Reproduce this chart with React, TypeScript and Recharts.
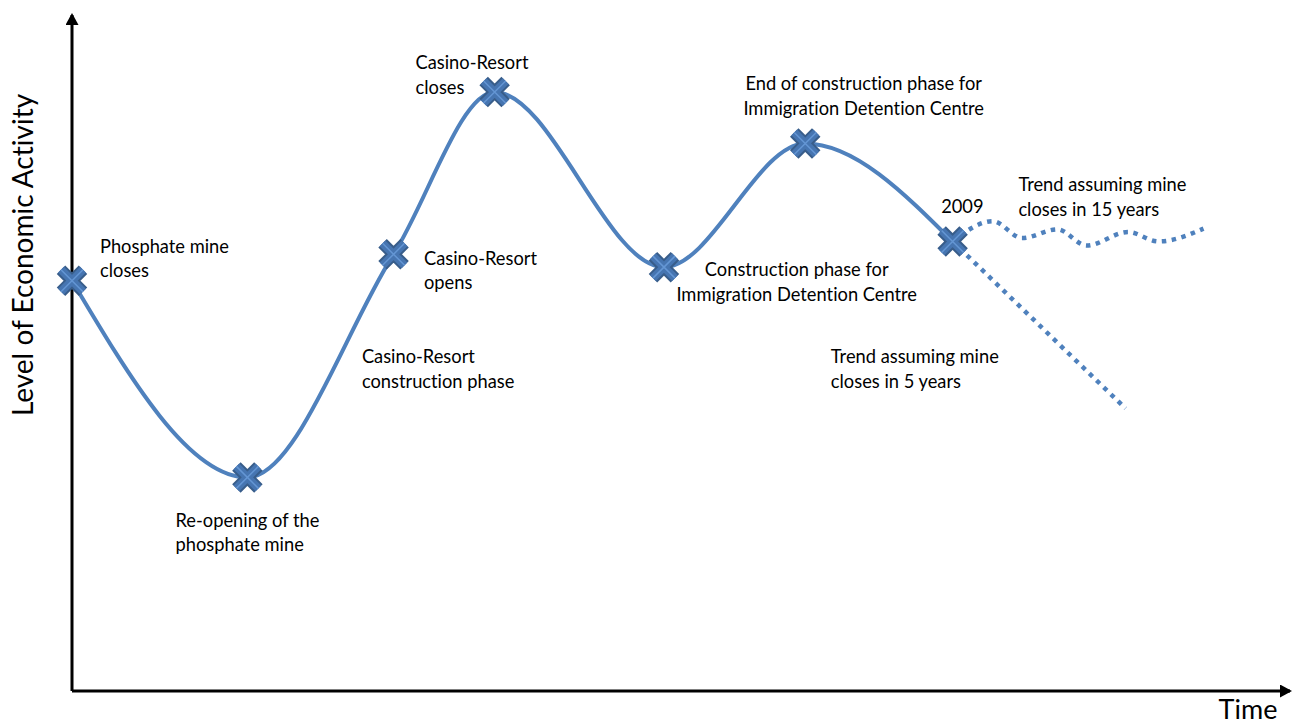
import React from 'react';
import { LineChart, Line, XAxis, YAxis, ReferenceDot } from 'recharts';

// Milestones on the main economic-activity path (time and level on a 0-100 scale)
const eventTimes = [0, 14.4, 26.4, 34.7, 48.6, 60.2, 72.3];
const eventLevels = [60.7, 31.6, 64.6, 88.6, 62.7, 81.0, 66.5];

// Trend assuming mine closes in 15 years (dotted wave)
const trend15Times = [72.3, 75.6, 78.0, 80.9, 83.3, 86.7, 89.2, 92.9];
const trend15Levels = [66.5, 69.5, 67.0, 68.3, 65.9, 67.9, 66.5, 68.4];

// Trend assuming mine closes in 5 years (dotted decline)
const trend5Times = [72.3, 86.5];
const trend5Levels = [66.5, 41.8];

// Annotation texts
const annotationTexts: string[][] = [
  ['Phosphate mine', 'closes'],
  ['Re-opening of the', 'phosphate mine'],
  ['Casino-Resort', 'construction phase'],
  ['Casino-Resort', 'opens'],
  ['Casino-Resort', 'closes'],
  ['End of construction phase for', 'Immigration Detention Centre'],
  ['Construction phase for', 'Immigration Detention Centre'],
  ['2009'],
  ['Trend assuming mine', 'closes in 15 years'],
  ['Trend assuming mine', 'closes in 5 years'],
];
const annotationTimes = [2.3, 8.5, 23.8, 28.9, 28.2, 65.0, 59.5, 73.1, 77.7, 62.3];
const annotationLevels = [65.9, 25.3, 49.5, 64.1, 93.0, 89.9, 62.4, 71.7, 75.0, 49.5];
const annotationAnchors = ['start', 'start', 'start', 'start', 'start', 'middle', 'middle', 'middle', 'start', 'start'];

const xAxisLabel = 'Time';
const yAxisLabel = 'Level of Economic Activity';

const mainData = eventTimes.map((t, i) => ({ time: t, level: eventLevels[i] }));
const trend15Data = trend15Times.map((t, i) => ({ time: t, level: trend15Levels[i] }));
const trend5Data = trend5Times.map((t, i) => ({ time: t, level: trend5Levels[i] }));

const FONT = "Lato, 'Liberation Sans', sans-serif";
const LINE_COLOR = '#4f81bd';
const TEXT_STYLE: React.CSSProperties = { fontVariantLigatures: 'none', fontFeatureSettings: '"liga" 0, "clig" 0' };

const XMarker = (props: any) => {
  const { cx, cy, index } = props;
  if (cx == null || cy == null) return null;
  const a = 11;
  const d = `M${cx - a},${cy - a}L${cx + a},${cy + a}M${cx - a},${cy + a}L${cx + a},${cy - a}`;
  return (
    <g key={`xm-${index}`}>
      <path d={d} stroke="#385d8a" strokeWidth={12} fill="none" />
      <path d={d} stroke="#4675b1" strokeWidth={8} fill="none" />
      <path d={d} stroke="#6496d4" strokeWidth={1.5} fill="none" />
    </g>
  );
};

const makeAnnotation = (lines: string[], anchor: string, key: number) => (props: any) => {
  const { cx, cy } = props;
  if (cx == null || cy == null) return null;
  return (
    <text
      key={`ann-${key}`}
      x={cx}
      y={cy}
      textAnchor={anchor as any}
      fontFamily={FONT}
      fontSize={18.3}
      fill="#000"
      style={TEXT_STYLE}
    >
      {lines.map((ln, j) => (
        <tspan key={j} x={cx} dy={j === 0 ? 0 : 24.5} dominantBaseline="central">
          {ln}
        </tspan>
      ))}
    </text>
  );
};

const XLabel = (props: any) => {
  const vb = props.viewBox || {};
  return (
    <text
      x={vb.x + vb.width - 42}
      y={vb.y + 28}
      textAnchor="middle"
      fontFamily={FONT}
      fontSize={27}
      fill="#000"
      style={TEXT_STYLE}
    >
      {xAxisLabel}
    </text>
  );
};

const YLabel = (props: any) => {
  const vb = props.viewBox || {};
  const x = 22;
  const y = vb.y + vb.height * 0.355;
  return (
    <text
      x={x}
      y={y}
      transform={`rotate(-90, ${x}, ${y})`}
      textAnchor="middle"
      dominantBaseline="central"
      fontFamily={FONT}
      fontSize={28}
      fill="#000"
      style={TEXT_STYLE}
    >
      {yAxisLabel}
    </text>
  );
};

export default function App() {
  return (
    <div style={{ position: 'absolute', left: 0, top: 0, width: 1293, height: 726, background: '#fff' }}>
      <LineChart
        width={1293}
        height={726}
        margin={{ top: 15, right: 3, bottom: 34, left: 71 }}
      >
        <defs>
          <marker
            id="axisArrow"
            viewBox="0 0 12 13"
            refX={10}
            refY={6.5}
            markerWidth={12}
            markerHeight={13}
            markerUnits="userSpaceOnUse"
            orient="auto-start-reverse"
          >
            <path d="M0,0 L12,6.5 L0,13 z" fill="#000" />
          </marker>
        </defs>
        <XAxis
          type="number"
          dataKey="time"
          domain={[0, 100]}
          height={1}
          tick={false}
          tickLine={false}
          axisLine={{ stroke: '#000', strokeWidth: 3, markerEnd: 'url(#axisArrow)' } as any}
          label={<XLabel />}
        />
        <YAxis
          type="number"
          dataKey="level"
          domain={[0, 100]}
          width={1}
          tick={false}
          tickLine={false}
          axisLine={{ stroke: '#000', strokeWidth: 3, markerStart: 'url(#axisArrow)' } as any}
          label={<YLabel />}
        />
        <Line
          data={trend5Data}
          dataKey="level"
          type="linear"
          stroke={LINE_COLOR}
          strokeWidth={4.5}
          strokeDasharray="4.5 5.5"
          dot={false}
          activeDot={false}
          isAnimationActive={false}
        />
        <Line
          data={trend15Data}
          dataKey="level"
          type="monotone"
          stroke={LINE_COLOR}
          strokeWidth={4.5}
          strokeDasharray="4.5 5.5"
          dot={false}
          activeDot={false}
          isAnimationActive={false}
        />
        <Line
          data={mainData}
          dataKey="level"
          type="monotone"
          stroke={LINE_COLOR}
          strokeWidth={4}
          dot={<XMarker />}
          activeDot={false}
          isAnimationActive={false}
        />
        {annotationTexts.map((lines, i) => (
          <ReferenceDot
            key={`ref-${i}`}
            x={annotationTimes[i]}
            y={annotationLevels[i]}
            r={0}
            ifOverflow="visible"
            shape={makeAnnotation(lines, annotationAnchors[i], i)}
          />
        ))}
      </LineChart>
    </div>
  );
}
